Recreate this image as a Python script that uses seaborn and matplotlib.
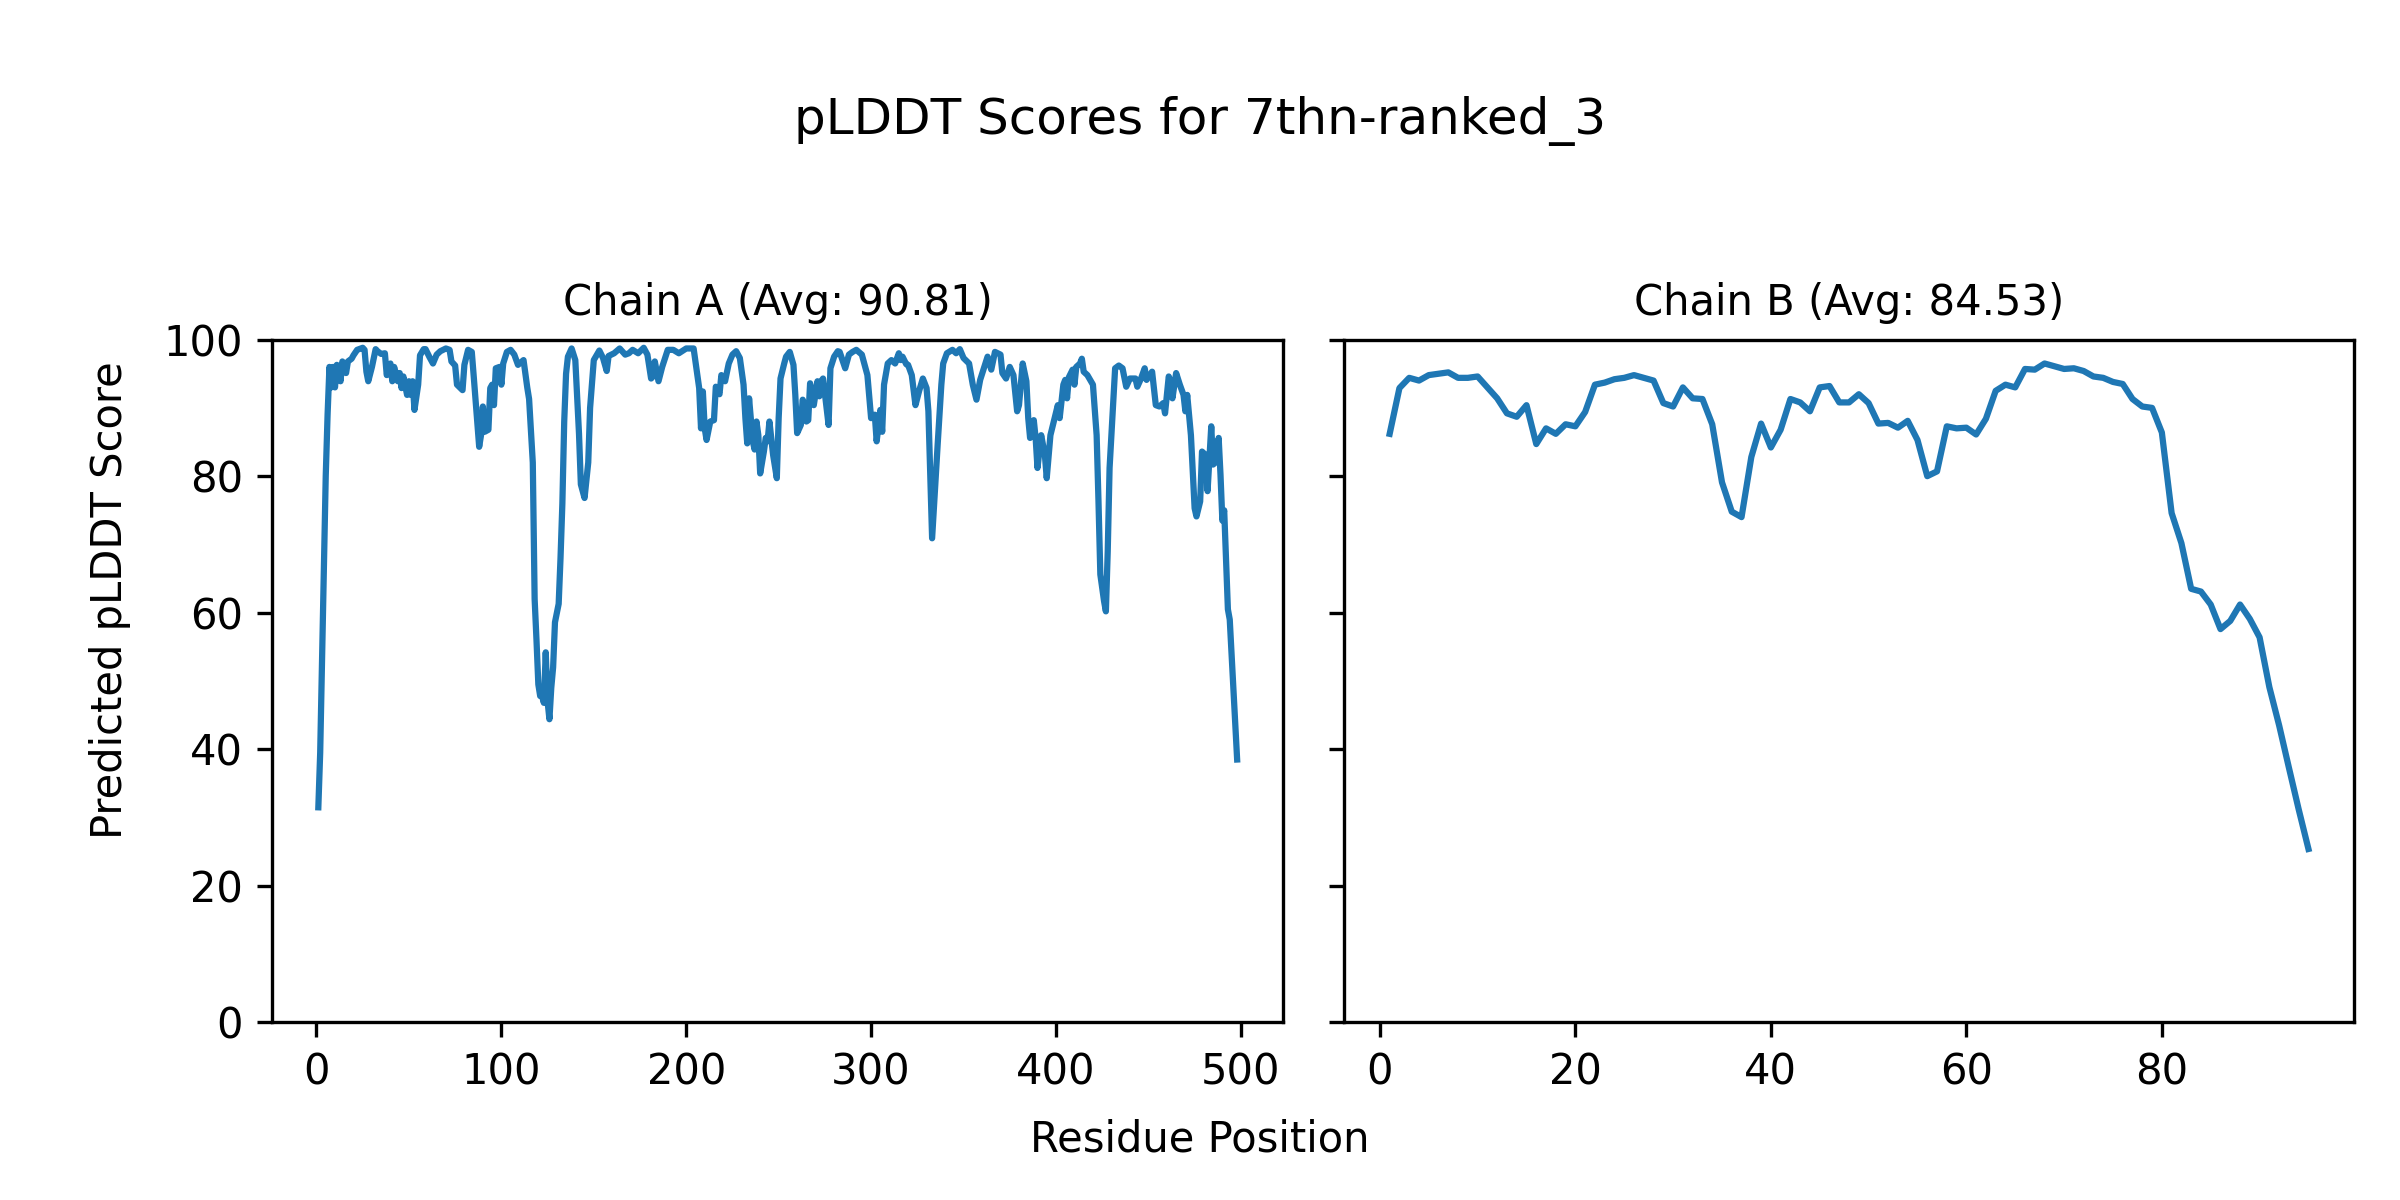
import matplotlib
matplotlib.use("Agg")
import matplotlib.pyplot as plt
import seaborn as sns

# Chain A: residue positions and pLDDT values
chain_a_pos = [1, 2, 3, 4, 5, 6, 7, 8, 9, 10, 11, 13, 14, 16, 17, 19, 20, 22, 25, 26,
               27, 28, 30, 32, 33, 35, 37, 38, 40, 41, 42, 44, 45, 46, 47, 49, 50, 51, 52, 53,
               55, 56, 58, 59, 61, 63, 65, 67, 70, 72, 73, 75, 76, 79, 80, 82, 84, 85, 88, 89,
               90, 91, 93, 94, 95, 96, 97, 99, 100, 101, 103, 105, 107, 109, 112, 114, 115, 117, 118, 119,
               120, 121, 122, 123, 124, 125, 126, 127, 128, 129, 131, 132, 133, 134, 135, 136, 138, 140, 142, 143,
               145, 147, 148, 150, 153, 155, 157, 158, 161, 164, 167, 169, 171, 174, 177, 179, 181, 182, 183, 185,
               187, 190, 193, 196, 200, 204, 205, 207, 208, 209, 210, 211, 213, 215, 216, 218, 219, 221, 223, 225,
               227, 229, 231, 232, 233, 234, 236, 237, 238, 239, 240, 242, 243, 244, 245, 247, 249, 250, 251, 253,
               254, 256, 258, 259, 260, 262, 263, 264, 265, 266, 267, 269, 271, 272, 273, 274, 275, 277, 278, 280,
               282, 283, 286, 288, 290, 292, 295, 298, 300, 302, 303, 305, 306, 307, 309, 311, 313, 315, 316, 317,
               319, 320, 322, 324, 326, 328, 330, 331, 332, 333, 335, 336, 338, 339, 341, 344, 346, 348, 350, 353,
               355, 357, 359, 361, 363, 365, 367, 370, 371, 373, 375, 377, 379, 380, 382, 384, 385, 386, 388, 389,
               390, 392, 394, 395, 397, 399, 401, 402, 404, 405, 406, 407, 409, 410, 411, 413, 414, 415, 417, 420,
               422, 423, 424, 426, 427, 428, 429, 431, 432, 434, 436, 438, 440, 443, 444, 446, 448, 449, 452, 454,
               456, 458, 459, 461, 462, 463, 465, 467, 469, 470, 471, 473, 475, 476, 478, 479, 481, 482, 484, 485,
               487, 488, 489, 490, 491, 493, 494, 498]
chain_a_plddt = [31.5, 39.5, 53.0, 66.0, 80.0, 89.0, 96.0, 93.0, 96.0, 93.0, 96.3, 93.9, 96.8, 95.1, 96.8, 97.2, 97.7, 98.5, 98.8, 98.5,
                 95.3, 93.9, 96.0, 98.6, 98.3, 97.9, 98.0, 94.8, 96.5, 93.9, 96.0, 93.9, 95.1, 92.9, 94.6, 91.9, 93.9, 91.9, 93.9, 89.7,
                 93.4, 97.7, 98.6, 98.6, 97.5, 96.5, 97.8, 98.3, 98.7, 98.5, 96.8, 96.2, 93.4, 92.6, 96.3, 98.5, 98.2, 94.8, 84.3, 86.0,
                 90.2, 86.5, 86.8, 92.9, 93.4, 90.4, 95.8, 96.0, 93.4, 96.5, 98.2, 98.5, 97.8, 96.3, 97.0, 93.0, 91.3, 82.0, 62.0, 56.0,
                 49.5, 47.8, 47.8, 46.8, 54.2, 47.0, 44.4, 49.0, 52.0, 58.6, 61.3, 68.0, 76.0, 88.0, 95.0, 97.5, 98.7, 97.0, 86.2, 78.8,
                 76.8, 82.0, 90.0, 97.0, 98.4, 97.3, 95.4, 97.6, 98.0, 98.7, 97.8, 98.0, 98.5, 98.0, 98.8, 97.8, 94.3, 94.6, 96.8, 93.9,
                 96.0, 98.5, 98.5, 98.0, 98.7, 98.7, 96.8, 92.9, 87.0, 92.4, 87.0, 85.3, 88.0, 88.2, 93.1, 92.0, 94.8, 93.9, 96.5, 97.8,
                 98.3, 97.3, 93.4, 88.5, 84.8, 91.4, 85.1, 83.9, 88.0, 86.0, 80.4, 83.6, 85.6, 85.1, 88.0, 83.1, 79.7, 88.5, 94.3, 96.5,
                 97.5, 98.2, 96.3, 91.9, 86.3, 87.5, 91.2, 90.4, 88.0, 88.2, 93.6, 90.4, 93.9, 91.7, 93.9, 94.3, 92.1, 87.5, 95.8, 97.5,
                 98.3, 98.2, 95.8, 97.8, 98.2, 98.5, 97.8, 94.8, 88.5, 89.0, 85.1, 89.7, 86.5, 93.4, 96.5, 97.0, 96.5, 98.0, 97.0, 97.5,
                 96.4, 96.3, 94.8, 90.4, 92.5, 94.3, 92.9, 89.5, 80.2, 70.9, 80.2, 84.6, 93.4, 96.5, 98.0, 98.5, 98.0, 98.6, 97.3, 96.5,
                 93.4, 91.2, 94.1, 95.8, 97.5, 95.6, 98.2, 97.8, 95.1, 94.3, 96.0, 94.8, 89.5, 90.4, 96.5, 93.9, 88.5, 85.6, 88.2, 85.6,
                 81.2, 86.0, 83.1, 79.7, 86.0, 88.2, 90.4, 88.5, 93.4, 94.1, 91.4, 94.5, 95.6, 93.4, 96.0, 96.5, 97.2, 95.3, 94.8, 93.4,
                 86.0, 76.3, 65.6, 61.7, 60.2, 69.0, 81.2, 90.9, 95.8, 96.2, 95.8, 93.1, 94.3, 94.3, 93.1, 94.3, 95.8, 94.1, 95.3, 90.4,
                 90.2, 90.7, 89.2, 94.6, 93.9, 91.4, 95.1, 93.4, 91.9, 89.5, 91.9, 86.0, 75.3, 74.1, 76.3, 83.6, 83.1, 77.8, 87.3, 81.7,
                 82.2, 85.6, 80.2, 73.5, 75.0, 60.5, 59.0, 38.5]

# Chain B: one value per residue
chain_b_pos = list(range(1, 96))
chain_b_plddt = [86.2, 92.9, 94.4, 94.0, 94.8, 95.0, 95.2, 94.4, 94.4, 94.6,
                 93.0, 91.4, 89.2, 88.7, 90.4, 84.7, 87.0, 86.2, 87.6, 87.3,
                 89.4, 93.4, 93.7, 94.2, 94.4, 94.8, 94.4, 94.0, 90.7, 90.2,
                 93.0, 91.4, 91.3, 87.6, 79.1, 74.8, 74.0, 82.8, 87.7, 84.2,
                 86.8, 91.3, 90.8, 89.5, 93.0, 93.2, 90.8, 90.8, 92.0, 90.7,
                 87.7, 87.8, 87.1, 88.1, 85.3, 80.0, 80.7, 87.3, 87.0, 87.1,
                 86.1, 88.4, 92.5, 93.4, 93.0, 95.7, 95.6, 96.5, 96.1, 95.7,
                 95.8, 95.4, 94.6, 94.4, 93.8, 93.5, 91.3, 90.2, 90.0, 86.4,
                 74.6, 70.2, 63.5, 63.1, 61.2, 57.6, 58.8, 61.2, 59.1, 56.4,
                 49.1, 43.5, 37.3, 31.2, 25.4]

chain_titles = ["Chain A (Avg: 90.81)", "Chain B (Avg: 84.53)"]

fig, axes = plt.subplots(1, 2, figsize=(8, 4), dpi=300, sharey=True)

sns.lineplot(x=chain_a_pos, y=chain_a_plddt, ax=axes[0], color="#1f77b4")
sns.lineplot(x=chain_b_pos, y=chain_b_plddt, ax=axes[1], color="#1f77b4")

for ax, title in zip(axes, chain_titles):
    ax.set_title(title, fontsize=10)
    ax.set_ylim(0, 100)
    ax.set_xlabel("")
    ax.set_ylabel("")
    ax.tick_params(labelsize=10)

fig.suptitle("pLDDT Scores for 7thn-ranked_3", fontsize=12, y=0.92)
fig.supxlabel("Residue Position", fontsize=10, y=0.033)
fig.supylabel("Predicted pLDDT Score", fontsize=10, x=0.037)
plt.subplots_adjust(left=0.1135, right=0.981, bottom=0.148, top=0.717, wspace=0.06)

plt.savefig("out.png")
